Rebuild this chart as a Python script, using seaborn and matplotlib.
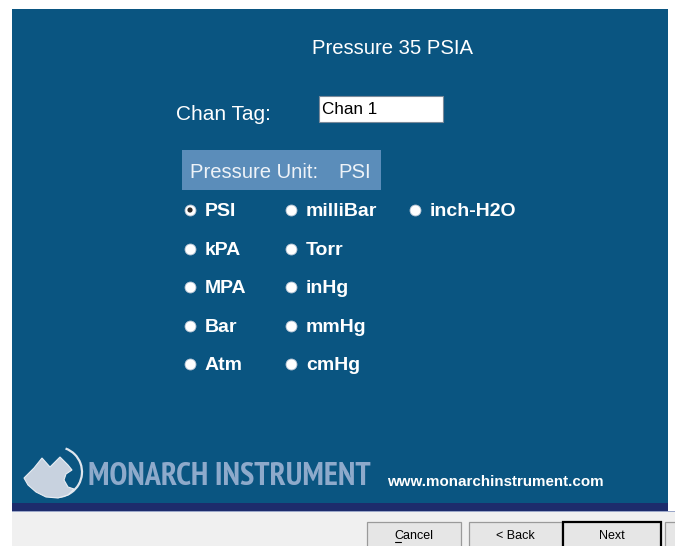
import matplotlib
matplotlib.use("Agg")
import matplotlib.pyplot as plt
import matplotlib.font_manager as fm
import seaborn as sns
import pandas as pd
from matplotlib.patches import Rectangle, Polygon, Arc

# ---- content ----
title = "Pressure 35 PSIA"
tag_label = "Chan Tag:"
tag_value = "Chan 1"
unit_label = "Pressure Unit:"
selected_unit = "PSI"
col1_units = ["PSI", "kPA", "MPA", "Bar", "Atm"]
col2_units = ["milliBar", "Torr", "inHg", "mmHg", "cmHg"]
col3_units = ["inch-H2O"]
brand = "MONARCH INSTRUMENT"
website = "www.monarchinstrument.com"
buttons = ["Cancel", "< Back", "Next"]

# ---- styling / layout ----
W, H = 675, 546
PANEL = "#0a5581"
BOX = "#5b8dba"
NAVY = "#1d2c6c"
GRAY = "#f0f0f0"
col_x = [190, 291, 415]
row_y0, row_dy = 210, 38.5
text_dx = 15
text_dy = 1.8

sns.set_theme(style="white")
plt.rcParams["font.family"] = ["Liberation Sans", "DejaVu Sans"]

# find a condensed bold face if one is installed
brand_font = None
for f in fm.fontManager.ttflist:
    n = (f.name + " " + f.fname).lower()
    if ("narrow" in n or "condensed" in n) and str(f.weight) in ("bold", "700", "600", "semibold"):
        brand_font = f.fname
        if "narrow" in n:
            break

fig = plt.figure(figsize=(W / 100, H / 100), dpi=100)
ax = fig.add_axes([0, 0, 1, 1])
fig.patch.set_facecolor("white")
ax.set_xlim(0, W)
ax.set_ylim(H, 0)

# panels
ax.add_patch(Rectangle((12, 9), 656, 496, facecolor=PANEL, edgecolor="none", zorder=0))
ax.add_patch(Rectangle((12, 503), 656, 8, facecolor=NAVY, edgecolor="none", zorder=1))
ax.add_patch(Rectangle((12, 511), W - 12, 1.2, facecolor="#9aa6c8", edgecolor="none", zorder=1))
ax.add_patch(Rectangle((12, 512), W - 12, H - 512, facecolor=GRAY, edgecolor="none", zorder=0))

# title
ax.text(393, 47 + text_dy, title, color="white", fontsize=14.6, ha="center", va="center")

# chan tag
ax.text(176, 114 + 1, tag_label, color="white", fontsize=15, ha="left", va="center")
ax.add_patch(Rectangle((319, 96), 124, 26, facecolor="white", edgecolor="#7a8a9a", lw=0.8, zorder=2))
ax.text(322, 108 + text_dy, tag_value, color="black", fontsize=12.3, ha="left", va="center", zorder=3)

# pressure unit box
ax.add_patch(Rectangle((182, 150), 199, 40, facecolor=BOX, edgecolor="none", zorder=2))
ax.text(190, 171 + text_dy, unit_label, color="#eef3f8", fontsize=14.6, ha="left", va="center", zorder=3)
ax.text(338, 171 + text_dy, selected_unit, color="#eef3f8", fontsize=14.6, ha="left", va="center", zorder=3)

# radio options
rows = []
for ci, col in enumerate([col1_units, col2_units, col3_units]):
    for ri, u in enumerate(col):
        rows.append({"unit": u, "x": col_x[ci], "y": row_y0 + ri * row_dy})
df = pd.DataFrame(rows)

sns.scatterplot(data=df, x="x", y="y", s=62, color="white", edgecolor="#b8c6d6",
                linewidth=0.6, ax=ax, legend=False, zorder=5)
sel = df[df["unit"] == selected_unit]
sns.scatterplot(data=sel, x="x", y="y", s=14, color="#2a2a2a", edgecolor="none",
                ax=ax, legend=False, zorder=6)
for _, r in df.iterrows():
    ax.text(r["x"] + text_dx, r["y"] + text_dy, r["unit"], color="white", fontsize=14,
            fontweight="bold", ha="left", va="center", zorder=6)

# logo
ax.add_patch(Arc((57, 472), 50, 50, angle=0, theta1=-70, theta2=130,
                 color="#dfe6ee", lw=1.6, zorder=3))
mountain = [(24, 478), (34, 468), (42, 458), (50, 467), (60, 457), (68, 465),
            (72, 470), (66, 474), (64, 480), (68, 487), (74, 489), (68, 495),
            (58, 498), (46, 497), (36, 492), (28, 485)]
ax.add_patch(Polygon(mountain, closed=True, facecolor="#c8d2df", edgecolor="#e8edf3",
                     lw=0.8, zorder=4))

brand_kw = dict(color="#8eaacb", fontweight="bold", ha="left", va="center", zorder=3)
if brand_font:
    brand_kw["fontproperties"] = fm.FontProperties(fname=brand_font, size=26)
    brand_kw.pop("fontweight")
else:
    brand_kw["fontsize"] = 26
bt = ax.text(88, 477, brand, **brand_kw)
# shrink to the reference width (about 282 px)
fig.canvas.draw()
bw = bt.get_window_extent().width
if bw > 0:
    bt.set_fontsize(bt.get_fontsize() * 282.0 / bw)

ax.text(387, 482, website, color="white", fontsize=10.9, fontweight="bold",
        ha="left", va="center", zorder=3)

# buttons
btn_x = [367, 469, 563]
btn_w = [94, 93, 98]
for i, b in enumerate(buttons):
    is_default = (b == "Next")
    ax.add_patch(Rectangle((btn_x[i], 522), btn_w[i], 30, facecolor="#e6e6e6",
                           edgecolor="black" if is_default else "#9a9a9a",
                           lw=1.6 if is_default else 0.9, zorder=2))
    ax.text(btn_x[i] + btn_w[i] / 2, 536, b, color="black", fontsize=9,
            ha="center", va="center", zorder=3)
ax.plot([394.5, 400.5], [541.5, 541.5], color="black", lw=0.8, zorder=3)
ax.add_patch(Rectangle((665, 522), 20, 30, facecolor="#e6e6e6", edgecolor="#9a9a9a",
                       lw=0.9, zorder=2))

ax.set_xlim(0, W)
ax.set_ylim(H, 0)
ax.axis("off")
fig.savefig("out.png", dpi=100, facecolor="white")
